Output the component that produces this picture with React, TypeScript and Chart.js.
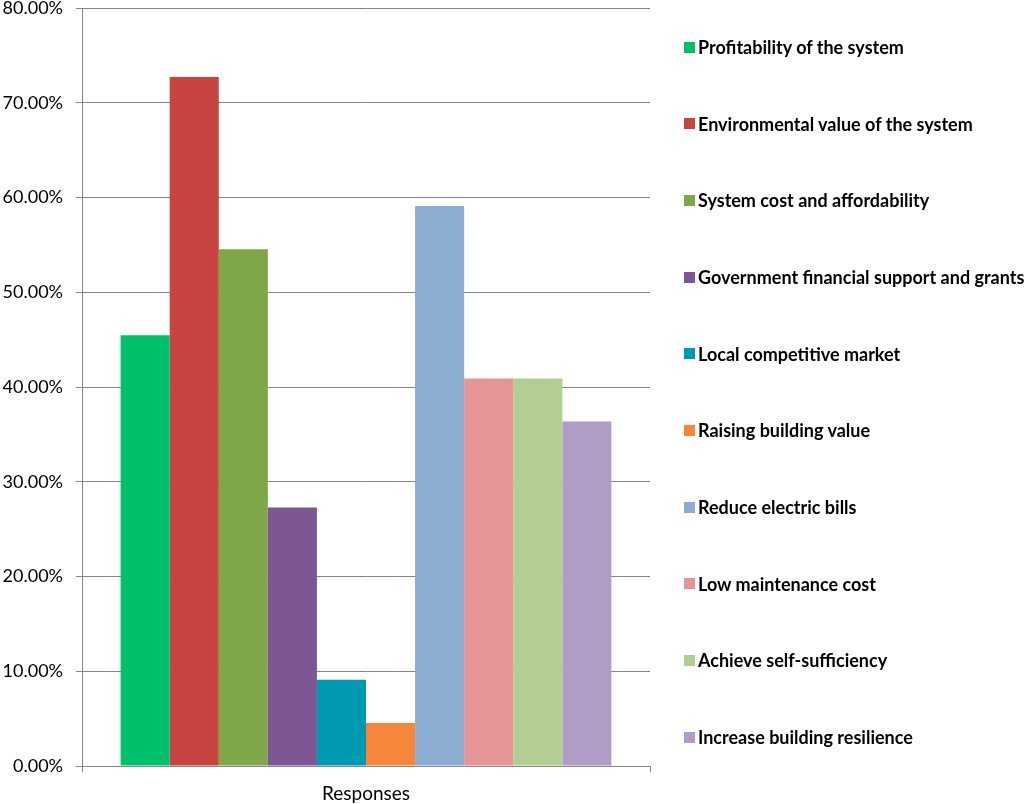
import React, { useEffect, useRef } from "react";
import { Chart, registerables } from "chart.js";

Chart.register(...registerables);

const categories = ["Responses"];
const seriesNames = [
  "Profitability of the system",
  "Environmental value of the system",
  "System cost and affordability",
  "Government financial support and grants",
  "Local competitive market",
  "Raising building value",
  "Reduce electric bills",
  "Low maintenance cost",
  "Achieve self-sufficiency",
  "Increase building resilience",
];
const seriesValues = [45.45, 72.73, 54.55, 27.27, 9.09, 4.55, 59.09, 40.91, 40.91, 36.36];
const seriesColors = [
  "#00C06B",
  "#C64541",
  "#7FA647",
  "#7D5694",
  "#0099B2",
  "#F5873A",
  "#8DACD2",
  "#E59595",
  "#B3CE93",
  "#B09CC4",
];
const yMin = 0;
const yMax = 80;
const yStep = 10;

const AXIS_COLOR = "#868686";
const FONT = "Lato, 'Open Sans', sans-serif";

export default function App() {
  const canvasRef = useRef<HTMLCanvasElement | null>(null);

  useEffect(() => {
    if (!canvasRef.current) return;
    const chart = new Chart(canvasRef.current, {
      type: "bar",
      data: {
        labels: categories,
        datasets: seriesNames.map((name, i) => ({
          label: name,
          data: [seriesValues[i]],
          backgroundColor: seriesColors[i],
          borderWidth: 0,
          barPercentage: 1,
          categoryPercentage: 0.864,
        })),
      },
      options: {
        animation: false,
        responsive: true,
        maintainAspectRatio: false,
        layout: { padding: { top: 8, right: 374, left: 0, bottom: 0 } },
        plugins: {
          legend: { display: false },
          tooltip: { enabled: false },
        },
        scales: {
          x: {
            grid: {
              drawOnChartArea: false,
              drawTicks: true,
              tickLength: 6,
              color: AXIS_COLOR,
            },
            border: { color: AXIS_COLOR, width: 1 },
            ticks: {
              color: "#000",
              padding: 10,
              font: { family: FONT, size: 19 },
            },
            afterFit: (scale: any) => {
              scale.height = 38;
              scale.paddingLeft = 0;
              scale.paddingRight = 0;
            },
          },
          y: {
            min: yMin,
            max: yMax,
            ticks: {
              stepSize: yStep,
              color: "#000",
              padding: 13,
              font: { family: FONT, size: 18 },
              callback: (v: any) => Number(v).toFixed(2) + "%",
            },
            grid: { color: AXIS_COLOR, tickLength: 6, lineWidth: 1 },
            border: { color: AXIS_COLOR, width: 1 },
            afterFit: (scale: any) => {
              scale.width = 82;
              scale.paddingTop = 0;
              scale.paddingBottom = 0;
            },
          },
        },
      },
    });
    return () => chart.destroy();
  }, []);

  return (
    <div
      style={{
        position: "absolute",
        left: 0,
        top: 0,
        width: 1024,
        height: 804,
        background: "#fff",
        overflow: "hidden",
      }}
    >
      <canvas ref={canvasRef} style={{ position: "absolute", left: 0, top: 0 }} />
      <div style={{ position: "absolute", left: 0, top: 0, width: 1024, height: 804, pointerEvents: "none" }}>
        {seriesNames.map((name, i) => (
          <div
            key={name}
            style={{
              position: "absolute",
              left: 684,
              top: 47 + i * 76.67 - 12,
              height: 24,
              display: "flex",
              alignItems: "center",
              whiteSpace: "nowrap",
              fontFamily: FONT,
              fontWeight: 700,
              fontSize: 18,
              color: "#000",
            }}
          >
            <span
              style={{
                display: "inline-block",
                width: 11,
                height: 11,
                background: seriesColors[i],
                marginRight: 3,
                flex: "none",
              }}
            />
            <span>{name}</span>
          </div>
        ))}
      </div>
    </div>
  );
}
